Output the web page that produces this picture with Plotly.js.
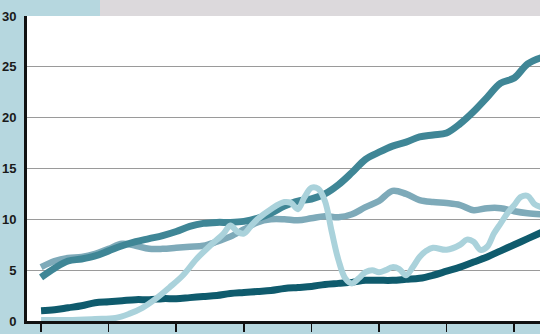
<!DOCTYPE html>
<html>
<head>
<meta charset="utf-8">
<script src="https://cdn.plot.ly/plotly-3.0.1.min.js"></script>
<style>html,body{margin:0;padding:0;background:#b6d7df;}#chart{width:540px;height:334px;}</style>
</head>
<body>
<div id="chart"></div>
<script>
// Years (annual series)
const years = [1970,1971,1972,1973,1974,1975,1976,1977,1978,1979,1980,1981,1982,1983,1984,1985,1986,1987,1988,1989,1990,1991,1992,1993,1994,1995,1996,1997,1998,1999,2000,2001,2002,2003,2004,2005,2006,2007];

// Medium teal series (steep riser)
const seriesA = [4.3,5.2,5.9,6.1,6.4,6.9,7.4,7.8,8.1,8.4,8.8,9.3,9.6,9.7,9.7,9.8,10.1,10.6,11.3,11.8,12.0,12.5,13.4,14.6,15.9,16.6,17.2,17.6,18.1,18.3,18.5,19.4,20.6,22.0,23.4,23.9,25.3,25.9];

// Grey-blue series
const seriesB = [5.3,5.9,6.2,6.3,6.6,7.1,7.6,7.4,7.1,7.1,7.2,7.3,7.4,7.8,8.3,9.0,9.7,10.0,10.0,9.9,10.1,10.3,10.2,10.5,11.2,11.8,12.8,12.5,11.9,11.7,11.6,11.4,10.9,11.1,11.1,10.8,10.6,10.5];

// Dark teal series
const seriesC = [1.0,1.1,1.3,1.5,1.8,1.9,2.0,2.1,2.1,2.2,2.2,2.3,2.4,2.5,2.7,2.8,2.9,3.0,3.2,3.3,3.4,3.6,3.7,3.8,4.0,4.0,4.0,4.1,4.2,4.5,4.9,5.3,5.8,6.3,6.9,7.5,8.1,8.7];

// Light blue series (volatile, half-year readings)
const yearsD = [1970,1972,1974,1975.5,1976.5,1977.5,1978.5,1979.5,1980.5,1981.5,1982.5,1983.5,1984,1984.5,1985,1985.5,1986,1987,1988,1988.5,1989,1989.5,1990,1990.5,1991,1991.5,1992,1992.5,1993,1993.5,1994,1994.5,1995,1995.5,1996,1996.5,1997,1997.5,1998,1998.5,1999,2000,2001,2001.5,2002,2002.5,2003,2003.5,2004,2004.5,2005,2005.5,2006,2006.5,2007];
const seriesD = [0.1,0.1,0.2,0.3,0.7,1.3,2.2,3.3,4.5,6.1,7.4,8.6,9.4,8.8,8.6,9.3,10.0,11.0,11.7,11.6,11.0,12.2,13.1,13.0,11.8,8.8,6.0,4.2,3.7,4.2,4.8,5.0,4.8,5.0,5.3,5.1,4.5,5.3,6.3,6.9,7.2,7.0,7.5,8.0,7.8,7.0,7.3,8.6,9.6,10.6,11.4,12.2,12.3,11.5,11.2];

const yTicks = [0,5,10,15,20,25,30];
const xTicks = [1970,1975,1980,1985,1990,1995,2000,2005];

const line = (x, y, color, w) => ({
  x: x, y: y, type: 'scatter', mode: 'lines',
  line: {color: color, width: w, shape: 'spline', smoothing: 1},
  hoverinfo: 'skip', showlegend: false
});

const data = [
  line(years, seriesB, '#7eaab9', 6.5),
  line(years, seriesA, '#3f8696', 7),
  line(years, seriesC, '#0f5b6d', 7),
  line(yearsD, seriesD, '#aad2db', 6)
];

const layout = {
  width: 540, height: 334,
  margin: {l: 27, r: 0, t: 16, b: 13, pad: 0},
  paper_bgcolor: '#b6d7df',
  plot_bgcolor: '#ffffff',
  showlegend: false,
  xaxis: {
    range: [1968.96, 2006.91],
    tickvals: xTicks, ticktext: xTicks.map(() => ''),
    ticks: 'outside', ticklen: 8, tickwidth: 1.5, tickcolor: '#111',
    showgrid: false, zeroline: false,
    showline: true, linecolor: '#111', linewidth: 3,
    fixedrange: true
  },
  yaxis: {
    range: [0, 30],
    tickvals: yTicks, ticktext: yTicks.map(String),
    ticks: '', ticklabelstandoff: 5,
    showgrid: true, gridcolor: '#9a9a9a', gridwidth: 1,
    zeroline: false,
    showline: true, linecolor: '#111', linewidth: 3,
    tickfont: {family: 'Liberation Sans, Arial, sans-serif', size: 13, color: '#1a1a1a', weight: 'bold'},
    fixedrange: true
  },
  shapes: [
    {type: 'rect', xref: 'paper', yref: 'paper', x0: 0.1423, x1: 1.01, y0: 1, y1: 1.06,
     fillcolor: '#dcd9dc', line: {width: 0}, layer: 'below'}
  ]
};

Plotly.newPlot('chart', data, layout, {staticPlot: true, displayModeBar: false});
</script>
</body>
</html>
